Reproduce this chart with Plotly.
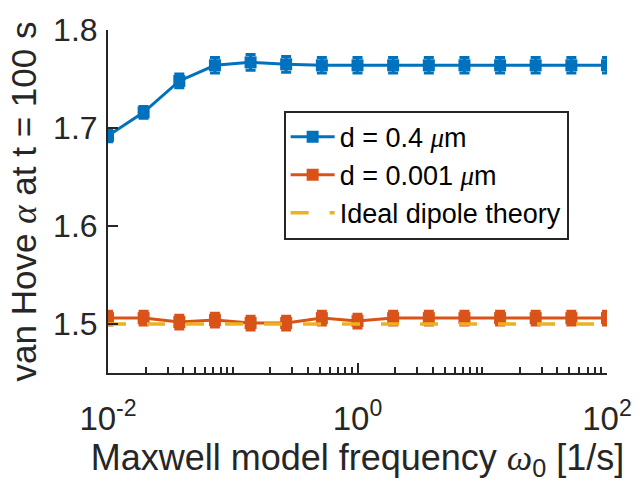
import plotly.graph_objects as go

# Maxwell model frequency omega_0 [1/s] (15 log-spaced values, 1e-2 .. 1e2)
omega0 = [0.01, 0.0193, 0.0373, 0.0720, 0.139, 0.268, 0.518, 1.0,
          1.93, 3.73, 7.20, 13.9, 26.8, 51.8, 100.0]

# van Hove exponent alpha at t = 100 s
alpha_d04 = [1.692, 1.716, 1.748, 1.764, 1.767, 1.765, 1.764, 1.764,
             1.764, 1.764, 1.764, 1.764, 1.764, 1.764, 1.764]
err_d04 = [0.006, 0.006, 0.007, 0.008, 0.008, 0.008, 0.008, 0.008,
           0.008, 0.008, 0.008, 0.008, 0.008, 0.008, 0.008]

alpha_d0001 = [1.506, 1.506, 1.502, 1.504, 1.501, 1.501, 1.506, 1.503,
               1.506, 1.506, 1.506, 1.506, 1.506, 1.506, 1.506]
err_d0001 = [0.007, 0.007, 0.007, 0.007, 0.007, 0.007, 0.007, 0.007,
             0.007, 0.007, 0.007, 0.007, 0.007, 0.007, 0.007]

alpha_ideal = [1.5] * len(omega0)

x_tickvals = [0.01, 1, 100]
x_ticktext = ["10<sup>-2</sup>", "10<sup>0</sup>", "10<sup>2</sup>"]
x_minor = [0.02, 0.03, 0.04, 0.05, 0.06, 0.07, 0.08, 0.09, 0.1,
           0.2, 0.3, 0.4, 0.5, 0.6, 0.7, 0.8, 0.9,
           2, 3, 4, 5, 6, 7, 8, 9, 10,
           20, 30, 40, 50, 60, 70, 80, 90]
y_tickvals = [1.5, 1.6, 1.7, 1.8]
y_ticktext = ["1.5", "1.6", "1.7", "1.8"]

BLUE = "#0072BD"
ORANGE = "#D95319"
YELLOW = "#EDB120"
AXC = "#262626"
FONT = "Liberation Sans, Arial, sans-serif"
SERIF = "<span style=\"font-family:'Liberation Serif'\"><i>%s</i></span>"

fig = go.Figure()

fig.add_trace(go.Scatter(
    x=omega0, y=alpha_d04, mode="lines+markers",
    name="d = 0.4 " + SERIF % "μ" + "m",
    line=dict(color=BLUE, width=3),
    marker=dict(symbol="square", size=12, color=BLUE),
    error_y=dict(type="data", array=err_d04, color=BLUE, thickness=3, width=5),
))
fig.add_trace(go.Scatter(
    x=omega0, y=alpha_d0001, mode="lines+markers",
    name="d = 0.001 " + SERIF % "μ" + "m",
    line=dict(color=ORANGE, width=3),
    marker=dict(symbol="square", size=12, color=ORANGE),
    error_y=dict(type="data", array=err_d0001, color=ORANGE, thickness=3, width=5),
))
fig.add_trace(go.Scatter(
    x=omega0, y=alpha_ideal, mode="lines",
    name="Ideal dipole theory",
    line=dict(color=YELLOW, width=3.5, dash="18px,21px"),
))

fig.update_layout(
    width=644, height=485,
    margin=dict(l=108, r=27, t=25, b=112),
    paper_bgcolor="white", plot_bgcolor="white",
    font=dict(family=FONT, color=AXC),
    showlegend=True,
    legend=dict(
        x=0.352, y=0.765, xanchor="left", yanchor="top",
        bgcolor="white", bordercolor=AXC, borderwidth=2,
        font=dict(size=27, family=FONT, color="black"),
        tracegroupgap=0, itemwidth=44,
    ),
)

fig.update_xaxes(
    type="log", range=[-2, 2],
    showline=True, linecolor=AXC, linewidth=2, mirror=False,
    showgrid=False, zeroline=False,
    ticks="inside", ticklen=10, tickwidth=2, tickcolor=AXC,
    tickmode="array", tickvals=x_tickvals, ticktext=x_ticktext,
    tickfont=dict(size=33, family=FONT, color=AXC),
    ticklabelstandoff=15,
    minor=dict(tickmode="array", tickvals=x_minor, ticks="inside",
               ticklen=6, tickwidth=2, tickcolor=AXC, showgrid=False),
    title=dict(text="Maxwell model frequency " + SERIF % "ω" + "<sub>0</sub> [1/s]",
               font=dict(size=36, family=FONT, color=AXC), standoff=8),
)
fig.update_yaxes(
    range=[1.45, 1.8],
    showline=True, linecolor=AXC, linewidth=2, mirror=False,
    showgrid=False, zeroline=False,
    ticks="inside", ticklen=10, tickwidth=2, tickcolor=AXC,
    tickmode="array", tickvals=y_tickvals, ticktext=y_ticktext,
    tickfont=dict(size=32, family=FONT, color=AXC),
    ticklabelstandoff=2,
    title=dict(text="van Hove " + SERIF % "α" + " at t = 100 s",
               font=dict(size=35, family=FONT, color=AXC), standoff=6),
)

fig.write_html("out.html")
